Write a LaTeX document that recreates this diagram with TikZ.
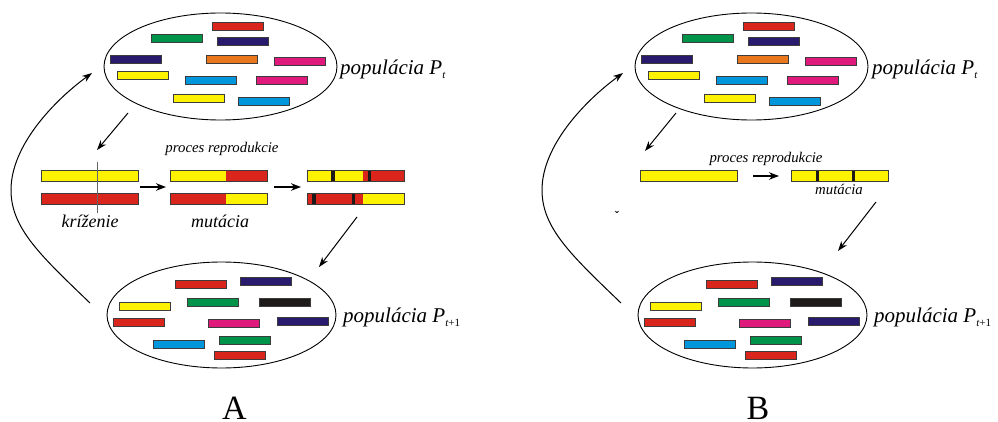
\documentclass[tikz,border=0pt]{standalone}
\usepackage{fontspec}
\setmainfont{Liberation Serif}
\usetikzlibrary{arrows.meta,shapes.geometric}
\definecolor{cred}{HTML}{DA251D}
\definecolor{cgreen}{HTML}{00934A}
\definecolor{cnavy}{HTML}{2A1A6E}
\definecolor{corange}{HTML}{E8771E}
\definecolor{cmag}{HTML}{E0197D}
\definecolor{cyel}{HTML}{FFF200}
\definecolor{ccyan}{HTML}{0096DB}
\definecolor{cblack}{HTML}{1E1A1A}
\definecolor{barline}{HTML}{3C3C3C}
\tikzset{
  gene/.style={draw=barline, line width=0.8pt},
  chrom/.style={draw=barline, line width=0.8pt},
  mutmark/.style={fill=cblack, draw=none},
  popell/.style={ellipse, draw=black, line width=0.9pt, inner sep=0pt},
  poplabel/.style={anchor=base west, inner sep=0pt, font=\fontsize{21}{25}\selectfont\itshape},
  midlabel/.style={anchor=base, inner sep=0pt, font=\fontsize{18}{22}\selectfont\itshape},
  smalllabel/.style={anchor=base, inner sep=0pt, font=\fontsize{14.8}{18}\selectfont\itshape},
  conn/.style={-{Stealth[length=10pt,width=7pt]}, line width=1pt, black},
  hconn/.style={-{Stealth[length=10pt,width=7.5pt]}, line width=1.7pt, black},
  panel/.style={anchor=base, inner sep=0pt, font=\fontsize{34}{36}\selectfont}
}
\newcommand{\gbar}[3]{\filldraw[gene, fill=#1] (#2,#3) rectangle ++(51,8);}
\newcommand{\lowsub}[1]{\raisebox{-4pt}{\fontsize{11}{11}\selectfont #1}}
\newcommand{\popTopBars}{%
  \gbar{cred}{212}{22}
  \gbar{cgreen}{151}{34}
  \gbar{cnavy}{217}{37}
  \gbar{cnavy}{110}{55}
  \gbar{corange}{206}{55}
  \gbar{cmag}{274}{57}
  \gbar{cyel}{117}{71}
  \gbar{ccyan}{185}{76}
  \gbar{cmag}{256}{76}
  \gbar{cyel}{173}{94}
  \gbar{ccyan}{238}{97}
}
\newcommand{\popBotBars}{%
  \gbar{cred}{175}{280}
  \gbar{cnavy}{240}{277}
  \gbar{cyel}{119}{302}
  \gbar{cgreen}{187}{298}
  \gbar{cblack}{259}{298}
  \gbar{cred}{113}{318}
  \gbar{cmag}{208}{319}
  \gbar{cnavy}{277}{317}
  \gbar{ccyan}{153}{340}
  \gbar{cgreen}{219}{336}
  \gbar{cred}{214}{351}
}
\begin{document}
\begin{tikzpicture}[x=1pt,y=-1pt]
\useasboundingbox (0,0) rectangle (998,422);
\fill[white] (0,0) rectangle (998,422);

% ================= Panel A =================
\node[popell, minimum width=233pt, minimum height=107pt] (popAt) at (220.5,66.5) {};
\node[popell, minimum width=229pt, minimum height=106pt] (popAb) at (221.5,315) {};
\popTopBars
\popBotBars
\node[poplabel] (labAt) at (340,75) {populácia P\lowsub{t}};
\node[poplabel] (labAb) at (343,322) {populácia P\lowsub{\itshape t\upshape +1}};

% crossing
\filldraw[chrom, fill=cyel] (41,170) rectangle (138,181);
\filldraw[chrom, fill=cred] (41,193) rectangle (138,204);
\draw[black!60, line width=1pt] (97,162) -- (97,213);
\node[midlabel] (krA) at (90,227) {kríženie};

% after crossing
\fill[cyel] (170,170) rectangle (226,181);
\fill[cred] (226,170) rectangle (267,181);
\draw[chrom] (170,170) rectangle (267,181);
\fill[cred] (170,193) rectangle (226,204);
\fill[cyel] (226,193) rectangle (267,204);
\draw[chrom] (170,193) rectangle (267,204);
\node[smalllabel] (prA) at (222,153) {proces reprodukcie};
\node[midlabel] (muA) at (220,227) {mutácia};

% after mutation
\fill[cyel] (307,170) rectangle (363,181);
\fill[cred] (363,170) rectangle (404,181);
\fill[mutmark] (331,170) rectangle (334.5,181);
\fill[mutmark] (367.5,170) rectangle (371,181);
\draw[chrom] (307,170) rectangle (404,181);
\fill[cred] (307,193) rectangle (363,204);
\fill[cyel] (363,193) rectangle (404,204);
\fill[mutmark] (312,193) rectangle (315.5,204);
\fill[mutmark] (351.5,193) rectangle (355,204);
\draw[chrom] (307,193) rectangle (404,204);

% arrows A
\coordinate (a1s) at (128,113);
\coordinate (a1e) at (97,150);
\coordinate (a2s) at (140,187);
\coordinate (a2e) at (166,187);
\coordinate (a3s) at (274,187);
\coordinate (a3e) at (301,187);
\coordinate (a4s) at (357,217);
\coordinate (a4e) at (319,267);
\coordinate (c0) at (90,303);
\coordinate (c1) at (11,190);
\coordinate (c2) at (92,73);
\draw[conn] (a1s) -- (a1e);
\draw[hconn] (a2s) -- (a2e);
\draw[hconn] (a3s) -- (a3e);
\draw[conn] (a4s) -- (a4e);
\draw[conn] (c0) .. controls (40,255) and (11,228) .. (c1) .. controls (11,145) and (55,100) .. (c2);

\node[panel] (labA) at (234.5,419) {A};

% ================= Panel B =================
\begin{scope}[xshift=531pt]
\popTopBars
\popBotBars
\end{scope}
\node[popell, minimum width=233pt, minimum height=107pt] (popBt) at (751.5,66.5) {};
\node[popell, minimum width=229pt, minimum height=106pt] (popBb) at (752.5,315) {};
\node[poplabel] (labBt) at (872,75) {populácia P\lowsub{t}};
\node[poplabel] (labBb) at (874,322) {populácia P\lowsub{\itshape t\upshape +1}};

\filldraw[chrom, fill=cyel] (640,170) rectangle (737,181);
\fill[cyel] (791,170) rectangle (888,181);
\fill[mutmark] (815.5,170) rectangle (819,181);
\fill[mutmark] (851.5,170) rectangle (855,181);
\draw[chrom] (791,170) rectangle (888,181);
\node[smalllabel] (prB) at (766,163) {proces reprodukcie};
\node[smalllabel] (muB) at (839,195) {mutácia};
\node[inner sep=0pt, text=black, font=\fontsize{13}{13}\selectfont\bfseries] (stray) at (617,216) {ˇ};

\coordinate (b1s) at (676,113);
\coordinate (b1e) at (645,151);
\coordinate (b2s) at (753,176);
\coordinate (b2e) at (779,176);
\coordinate (b4s) at (876,202);
\coordinate (b4e) at (838,251);
\coordinate (d0) at (621,303);
\coordinate (d1) at (542,190);
\coordinate (d2) at (623,73);
\draw[conn] (b1s) -- (b1e);
\draw[hconn] (b2s) -- (b2e);
\draw[conn] (b4s) -- (b4e);
\draw[conn] (d0) .. controls (571,255) and (542,228) .. (d1) .. controls (542,145) and (586,100) .. (d2);

\node[panel] (labB) at (758,419) {B};
\end{tikzpicture}
\end{document}
